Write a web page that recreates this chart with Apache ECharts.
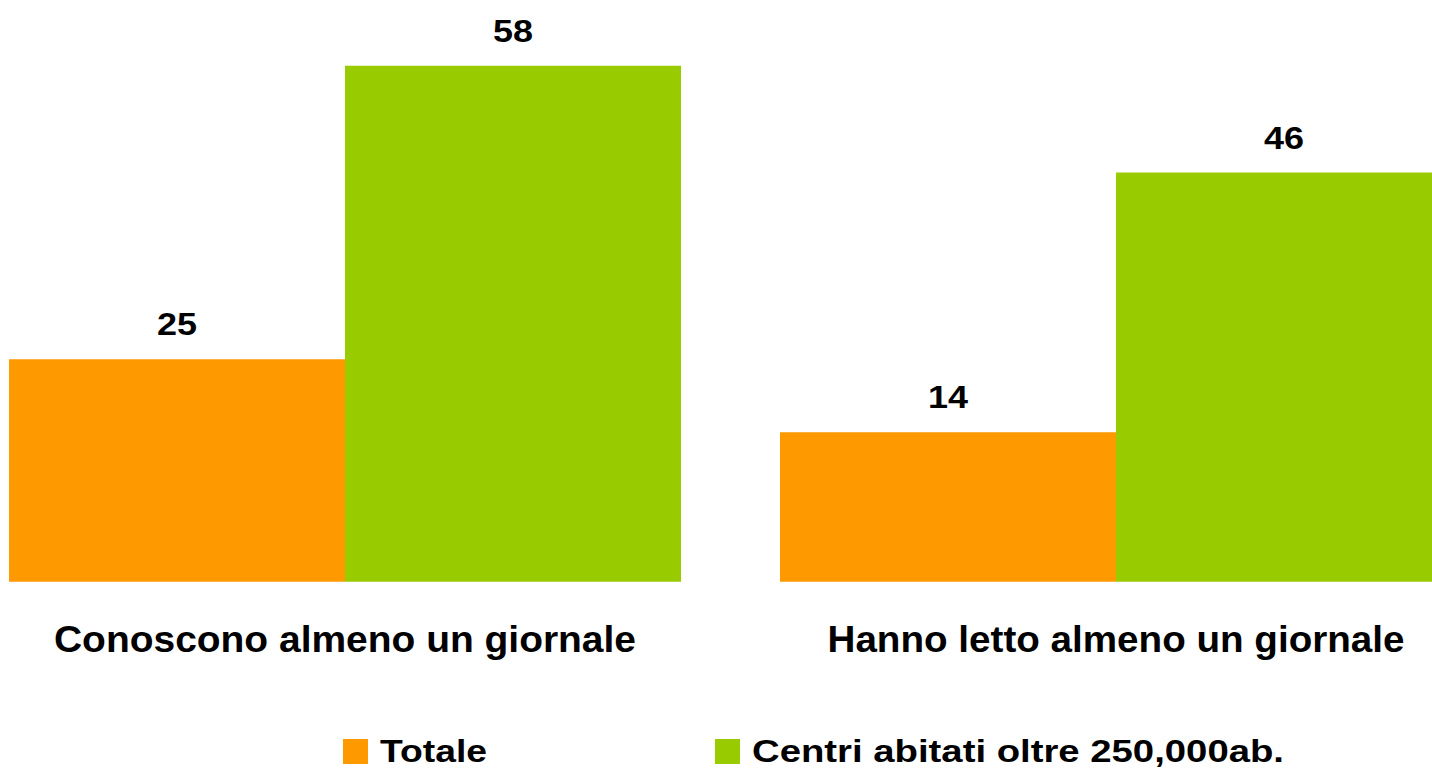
<!DOCTYPE html>
<html>
<head>
<meta charset="utf-8">
<script src="https://cdn.jsdelivr.net/npm/echarts@6/dist/echarts.min.js"></script>
<style>html,body{margin:0;padding:0;background:#fff;overflow:hidden;}#c{width:1432px;height:769px;}</style>
</head>
<body>
<div id="c"></div>
<script>
var categories = ['Conoscono almeno un giornale', 'Hanno letto almeno un giornale'];
var seriesNames = ['Totale', 'Centri abitati oltre 250,000ab.'];
// bar heights as drawn in the picture
var totaleValues = [25, 16.8];
var centriValues = [58, 46];
// value labels as printed in the picture
var totaleLabels = ['25', '14'];
var centriLabels = ['58', '46'];

var chart = echarts.init(document.getElementById('c'), null, { renderer: 'svg' });
var font = '"Liberation Sans", Arial, sans-serif';
function lbl(arr) {
  return {
    show: true, position: 'top', distance: 19,
    fontFamily: font, fontWeight: 'bold', fontSize: 32, color: '#000',
    formatter: function (p) { return arr[p.dataIndex]; }
  };
}
var legendText = { fontFamily: font, fontWeight: 'bold', fontSize: 31, color: '#000', padding: [0, 0, 0, 7] };
chart.setOption({
  animation: false,
  grid: { left: -40.5, right: -69.5, top: 48, bottom: 187.3, containLabel: false, outerBoundsMode: 'none' },
  legend: [
    { data: [seriesNames[0]], left: 338, top: 731, itemWidth: 25, itemHeight: 25, icon: 'rect', textStyle: legendText },
    { data: [seriesNames[1]], left: 710, top: 731, itemWidth: 25, itemHeight: 25, icon: 'rect', textStyle: legendText }
  ],
  xAxis: {
    type: 'category', data: categories,
    axisLine: { show: false }, axisTick: { show: false },
    axisLabel: { margin: 40, fontFamily: font, fontWeight: 'bold', fontSize: 36, color: '#000', interval: 0 }
  },
  yAxis: {
    type: 'value', min: 0, max: 60, interval: 10, show: false,
    splitLine: { show: false }
  },
  series: [
    { name: seriesNames[0], type: 'bar', data: totaleValues, barWidth: 336, barGap: '0%',
      itemStyle: { color: '#FF9900' }, label: lbl(totaleLabels) },
    { name: seriesNames[1], type: 'bar', data: centriValues, barWidth: 336, barGap: '0%',
      itemStyle: { color: '#99CC00' }, label: lbl(centriLabels) }
  ]
});

// the reference text is drawn horizontally stretched: stretch glyphs to match
function stretch() {
  var texts = document.querySelectorAll('#c text');
  texts.forEach(function (t) {
    var s = t.textContent;
    var w = null;
    if (s === seriesNames[0]) w = 107;
    else if (s === seriesNames[1]) w = 532;
    else if (s === categories[0]) w = 582;
    else if (s === categories[1]) w = 577;
    else if (/^\d+$/.test(s)) w = 40;
    if (w) { t.setAttribute('textLength', w); t.setAttribute('lengthAdjust', 'spacingAndGlyphs'); }
  });
}
chart.on('finished', stretch);
stretch();
</script>
</body>
</html>
